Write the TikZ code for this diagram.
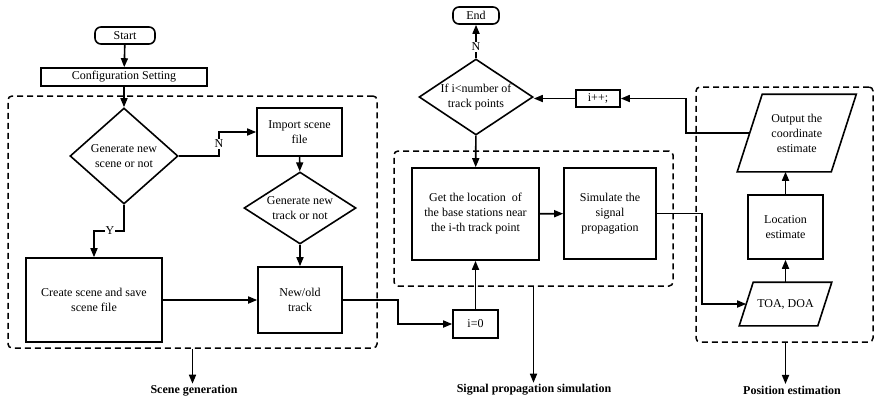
\documentclass[tikz,border=0pt]{standalone}
\usepackage{fontspec}
\setmainfont{Liberation Serif}
\usetikzlibrary{arrows.meta,calc,shapes.geometric}
\begin{document}
\begin{tikzpicture}[x=1pt,y=-1pt,line width=1.6pt,
  txt/.style={font=\fontsize{12}{15}\selectfont, align=center},
  box/.style={draw, rectangle, inner sep=0pt, txt},
  term/.style={box, rounded corners=6pt},
  dec/.style={draw, diamond, inner sep=0pt, txt},
  para/.style={rectangle, inner sep=0pt, txt},
  group/.style={draw, rectangle, rounded corners=4pt, dash pattern=on 6pt off 4pt, line width=1.5pt, inner sep=0pt},
  arr/.style={-{Triangle[length=9pt,width=7pt]}},
  lbl/.style={font=\fontsize{12}{14}\selectfont, fill=white, inner sep=1pt},
  grpcaption/.style={font=\fontsize{12}{14}\selectfont\bfseries, inner sep=1pt}]
\useasboundingbox (0,0) rectangle (874,400);
% groups
\node[group, minimum width=369pt, minimum height=252pt] (g1) at (192.5,222) {};
\node[group, minimum width=279pt, minimum height=135pt] (g2) at (533.5,218.5) {};
\node[group, minimum width=177pt, minimum height=255pt] (g3) at (784.5,214.5) {};
% left part
\node[term, minimum width=60pt, minimum height=17pt] (start) at (125,35.5) {Start};
\node[box, minimum width=166pt, minimum height=18pt] (config) at (124,77) {Configuration Setting};
\node[dec, minimum width=108pt, minimum height=96pt, aspect=1.125] (d1) at (124,156) {Generate new\\scene or not};
\node[box, minimum width=85pt, minimum height=48pt] (imp) at (299.5,132) {Import scene\\file};
\node[dec, minimum width=112pt, minimum height=72pt, aspect=1.55] (d2) at (300,208) {Generate new\\track or not};
\node[box, minimum width=84pt, minimum height=66pt] (track) at (300,300) {New/old\\track};
\node[box, minimum width=136pt, minimum height=84pt] (create) at (94,300) {Create scene and save\\scene file};
% middle part
\node[term, minimum width=46pt, minimum height=17pt] (end) at (476,15.5) {End};
\node[dec, minimum width=114pt, minimum height=76pt, aspect=1.5] (d3) at (476,97) {If i<number of\\track points};
\node[box, minimum width=44pt, minimum height=17pt] (ipp) at (598,98.5) {i++;};
\node[box, minimum width=127pt, minimum height=92pt] (get) at (475.5,214) {Get the location\ \ of\\the base stations near\\the i-th track point};
\node[box, minimum width=92pt, minimum height=91pt] (sim) at (610,213.5) {Simulate the\\signal\\propagation};
\node[box, minimum width=45pt, minimum height=28pt] (i0) at (475.5,324) {i=0};
% right part
\node[para, minimum width=92.5pt, minimum height=76pt] (out) at (796.75,133) {Output the\\coordinate\\estimate};
\draw ($(out.north west)+(12.5,0)$) -- ($(out.north east)+(12.5,0)$) -- ($(out.south east)+(-12.5,0)$) -- ($(out.south west)+(-12.5,0)$) -- cycle;
\node[box, minimum width=75pt, minimum height=64pt] (loc) at (785.5,227) {Location\\estimate};
\node[para, minimum width=77pt, minimum height=42pt] (toa) at (785.5,304) {TOA, DOA};
\draw ($(toa.north west)+(7,0)$) -- ($(toa.north east)+(7,0)$) -- ($(toa.south east)+(-7,0)$) -- ($(toa.south west)+(-7,0)$) -- cycle;
% captions
\node[grpcaption] (c1) at (194,391) {Scene generation};
\node[grpcaption] (c2) at (534,390) {Signal propagation simulation};
\node[grpcaption] (c3) at (792,390) {Position estimation};
% connectors
\coordinate (nb) at (219,144);
\coordinate (yb) at (110,231);
\coordinate (tb) at (398,312);
\coordinate (sb) at (702,260);
\coordinate (ob) at (686,115);
\draw[arr] (start) -- (config);
\draw[arr] (config) -- (d1);
\draw[arr] (d1.east) -| (nb) |- (imp.west);
\node[lbl] at (nb) {N};
\draw[arr] (d1.south) |- (yb) -| (create.north);
\node[lbl] at (yb) {Y};
\draw[arr] (imp) -- (d2);
\draw[arr] (d2) -- (track);
\draw[arr] (create) -- (track);
\draw[arr] (track.east) -| (tb) |- (i0.west);
\draw[arr] (i0) -- (get);
\draw[arr] (d3) -- (get);
\draw[arr] (d3) -- (end);
\node[lbl] at (476,47) {N};
\draw[arr] (get) -- (sim);
\draw[arr] (sim.east) -| (sb) |- (toa.west);
\draw[arr] (toa.north -| loc.north) -- (loc.south);
\draw[arr] (loc.north) -- (loc.north |- out.south);
\draw[arr] (out.west) -| (ob) |- (ipp.east);
\draw[arr] (ipp.west) -- (d3.east |- ipp.west);
\draw[arr] (g1.south) -- (g1.south |- c1.north);
\draw[arr] (g2.south) -- (g2.south |- c2.north);
\draw[arr] (g3.south -| loc.south) -- (loc.south |- c3.north);
\end{tikzpicture}
\end{document}
